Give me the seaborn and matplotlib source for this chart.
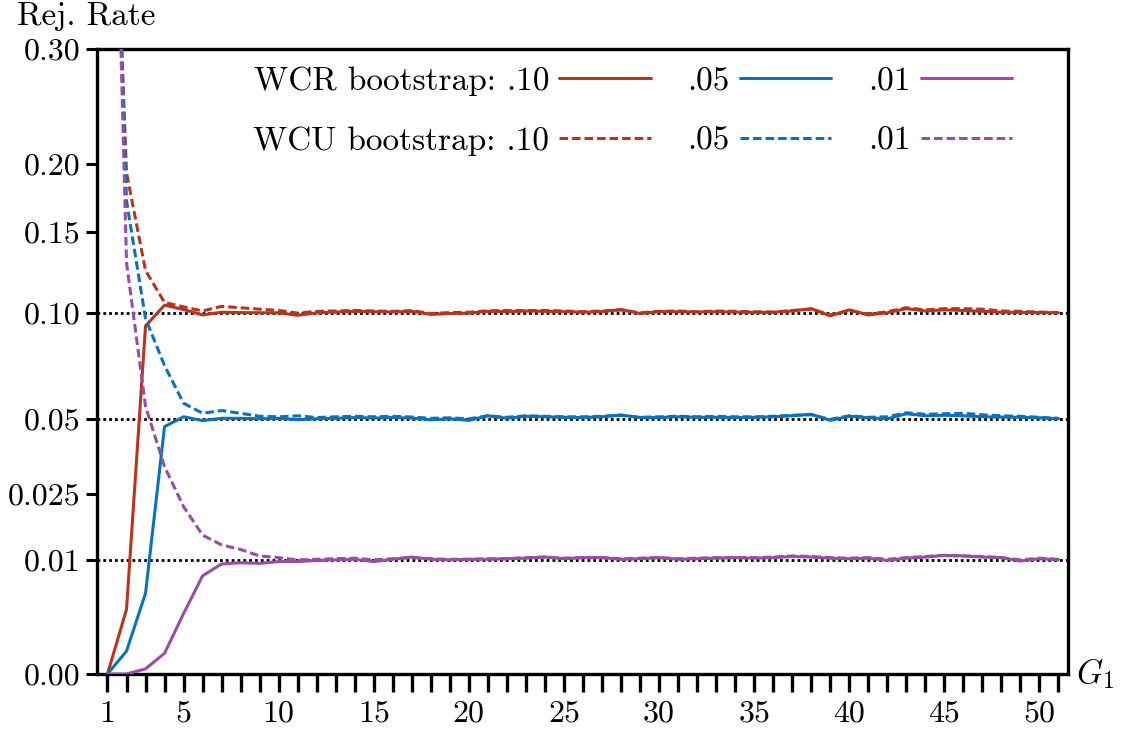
import numpy as np
import matplotlib
matplotlib.use("Agg")
import matplotlib.pyplot as plt
from matplotlib.lines import Line2D
import seaborn as sns

# rejection rates by number of treated clusters G1
g1 = np.arange(1, 52)

wcr10 = [0.0, 0.0032, 0.093, 0.1045, 0.1020, 0.0990, 0.1005, 0.1003, 0.1002, 0.1002,
         0.0988, 0.1002, 0.1006, 0.1010, 0.1008, 0.1006, 0.1010, 0.0993, 0.0998, 0.1000,
         0.1010, 0.1008, 0.1012, 0.1010, 0.1008, 0.1005, 0.1008, 0.1020, 0.0998, 0.1008,
         0.1008, 0.1006, 0.1008, 0.1006, 0.1004, 0.1005, 0.1012, 0.1025, 0.0985, 0.1018,
         0.0990, 0.1002, 0.1025, 0.1012, 0.1018, 0.1015, 0.1010, 0.1005, 0.1004, 0.1003,
         0.1002]
wcu10 = [0.75, 0.193, 0.125, 0.106, 0.1035, 0.1012, 0.1038, 0.1030, 0.1022, 0.1015,
         0.1000, 0.1010, 0.1012, 0.1015, 0.1012, 0.1010, 0.1014, 0.0998, 0.1003, 0.1005,
         0.1013, 0.1015, 0.1014, 0.1015, 0.1012, 0.1008, 0.1012, 0.1018, 0.1002, 0.1010,
         0.1012, 0.1008, 0.1012, 0.1010, 0.1008, 0.1006, 0.1015, 0.1022, 0.0990, 0.1015,
         0.0995, 0.1008, 0.1030, 0.1018, 0.1025, 0.1025, 0.1022, 0.1012, 0.1010, 0.1006,
         0.1003]
wcr05 = [0.0, 0.0004, 0.0050, 0.047, 0.0508, 0.0493, 0.0502, 0.0502, 0.0500, 0.0502,
         0.0497, 0.0500, 0.0502, 0.0505, 0.0503, 0.0505, 0.0503, 0.0496, 0.0500, 0.0494,
         0.0512, 0.0502, 0.0510, 0.0508, 0.0506, 0.0505, 0.0508, 0.0515, 0.0505, 0.0505,
         0.0508, 0.0506, 0.0506, 0.0505, 0.0506, 0.0508, 0.0512, 0.0518, 0.0494, 0.0510,
         0.0504, 0.0500, 0.0520, 0.0512, 0.0514, 0.0512, 0.0508, 0.0507, 0.0506, 0.0504,
         0.0500]
wcu05 = [0.9, 0.172, 0.097, 0.073, 0.0563, 0.0522, 0.0533, 0.0522, 0.0510, 0.0508,
         0.0512, 0.0505, 0.0508, 0.0510, 0.0508, 0.0510, 0.0507, 0.0502, 0.0504, 0.0500,
         0.0512, 0.0506, 0.0512, 0.0510, 0.0508, 0.0508, 0.0510, 0.0514, 0.0506, 0.0508,
         0.0510, 0.0508, 0.0510, 0.0508, 0.0508, 0.0510, 0.0514, 0.0516, 0.0498, 0.0512,
         0.0506, 0.0508, 0.0524, 0.0518, 0.0520, 0.0522, 0.0516, 0.0512, 0.0510, 0.0506,
         0.0502]
wcr01 = [0.0, 0.0, 0.00002, 0.00033, 0.0028, 0.0074, 0.0093, 0.0095, 0.0094, 0.0097,
         0.0097, 0.0099, 0.0100, 0.0101, 0.0097, 0.0101, 0.0105, 0.0101, 0.0100, 0.0101,
         0.0101, 0.0102, 0.0103, 0.0105, 0.0102, 0.0104, 0.0104, 0.0101, 0.0102, 0.0104,
         0.0101, 0.0102, 0.0103, 0.0104, 0.0103, 0.0104, 0.0106, 0.0105, 0.0103, 0.0102,
         0.0103, 0.0099, 0.0103, 0.0105, 0.0108, 0.0107, 0.0105, 0.0104, 0.0098, 0.0102,
         0.0100]
wcu01 = [1.0, 0.13, 0.055, 0.033, 0.0215, 0.0148, 0.0128, 0.0119, 0.0107, 0.0104,
         0.0100, 0.0101, 0.0102, 0.0103, 0.0100, 0.0102, 0.0104, 0.0102, 0.0101, 0.0101,
         0.0102, 0.0102, 0.0104, 0.0105, 0.0103, 0.0104, 0.0104, 0.0102, 0.0103, 0.0104,
         0.0102, 0.0103, 0.0104, 0.0104, 0.0104, 0.0105, 0.0107, 0.0106, 0.0104, 0.0103,
         0.0104, 0.0101, 0.0104, 0.0106, 0.0108, 0.0107, 0.0106, 0.0104, 0.0100, 0.0103,
         0.0101]

levels = [0.10, 0.05, 0.01]
level_labels = ['.10', '.05', '.01']
colors = ['#B7341F', '#0A72BA', '#984EA3']
yticks = [0.0, 0.01, 0.025, 0.05, 0.10, 0.15, 0.20, 0.30]
yticklabels = ['0.00', '0.01', '0.025', '0.05', '0.10', '0.15', '0.20', '0.30']
xticklabels_at = [1, 5, 10, 15, 20, 25, 30, 35, 40, 45, 50]

sns.set_style('ticks')
plt.rcParams['font.family'] = 'serif'
plt.rcParams['font.serif'] = ['cmr10']
plt.rcParams['mathtext.fontset'] = 'cm'
plt.rcParams['axes.unicode_minus'] = False
plt.rcParams['axes.formatter.use_mathtext'] = True
plt.rcParams['text.color'] = 'black'
plt.rcParams['axes.edgecolor'] = 'black'
plt.rcParams['xtick.color'] = 'black'
plt.rcParams['ytick.color'] = 'black'

fig, ax = plt.subplots(figsize=(11.23, 7.31), dpi=100)
fig.subplots_adjust(left=0.0864, right=0.951, top=0.933, bottom=0.078)

ax.set_yscale('function', functions=(lambda v: np.sqrt(np.clip(v, 0, None)), np.square))

for lv in levels:
    ax.axhline(lv, color='black', lw=2.0, ls=(0, (1.0, 1.1)), zorder=1)

lw = 2.2
dash = (2.8, 1.3)
wcr = [wcr10, wcr05, wcr01]
wcu = [wcu10, wcu05, wcu01]
h_r, h_u = [], []
for vals, c in zip(wcr, colors):
    sns.lineplot(x=g1, y=vals, color=c, lw=lw, ax=ax, zorder=3)
    h_r.append(Line2D([], [], color=c, lw=lw))
for vals, c in zip(wcu, colors):
    sns.lineplot(x=g1, y=vals, color=c, lw=lw, ax=ax, zorder=4)
    ax.lines[-1].set_dashes(dash)
    h_u.append(Line2D([], [], color=c, lw=lw, dashes=dash))

ax.set_xlim(0.45, 51.5)
ax.set_ylim(0, 0.30)
ax.set_yticks(yticks)
ax.set_yticklabels(yticklabels)
ax.set_xticks(g1)
ax.set_xticklabels([str(v) if v in xticklabels_at else '' for v in g1])
ax.tick_params(axis='y', labelsize=23, length=8, width=2.2, pad=4)
ax.tick_params(axis='x', labelsize=23, length=13, width=2.4, pad=6)
ax.set_xlabel('')
ax.set_ylabel('')
for sp in ax.spines.values():
    sp.set_linewidth(2.4)
    sp.set_visible(True)

fig.text(0.015, 0.977, 'Rej. Rate', fontsize=24, ha='left', va='center')
ax.text(1.008, 0.0, '$G_1$', transform=ax.transAxes, fontsize=24, ha='left', va='center')

handles, labels = [], []
for i in range(3):
    handles += [h_r[i], h_u[i]]
    if i == 0:
        labels += ['WCR bootstrap: ' + level_labels[i], 'WCU bootstrap: ' + level_labels[i]]
    else:
        labels += [level_labels[i], level_labels[i]]
ax.legend(handles, labels, ncol=3, markerfirst=False, frameon=False, fontsize=24,
          loc='upper left', bbox_to_anchor=(0.1607, 0.972), borderpad=0, borderaxespad=0,
          handlelength=2.75, handletextpad=0.3, columnspacing=1.1, labelspacing=0.9)

fig.savefig('out.png', dpi=100)
